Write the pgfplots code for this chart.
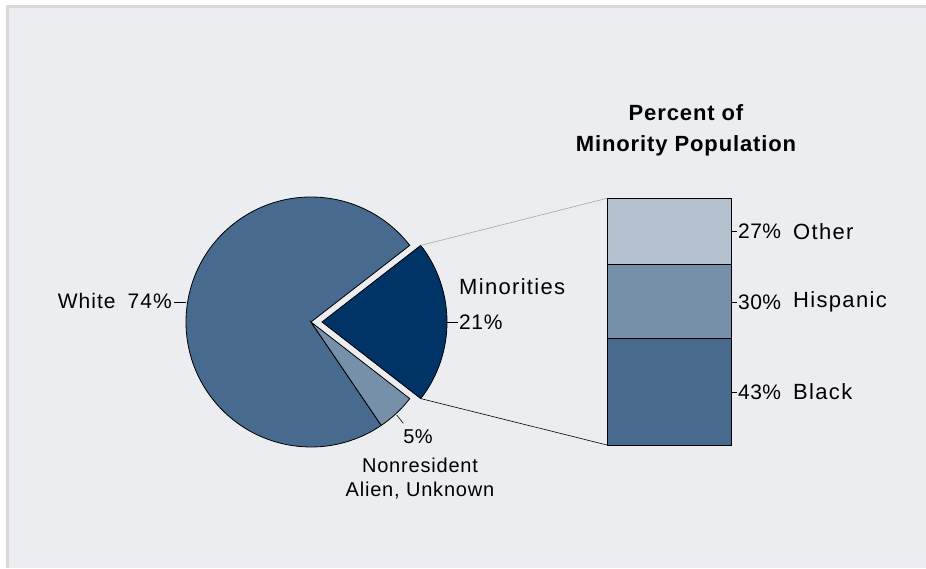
\documentclass[border=0pt]{standalone}
\usepackage{pgfplots}
\pgfplotsset{compat=1.18}
\usepackage{fontspec}
\setmainfont{Liberation Sans}

\definecolor{bgc}{HTML}{ECEDF0}
\definecolor{framec}{HTML}{D9D9D9}
\definecolor{cWhite}{HTML}{476A8E}
\definecolor{cMinor}{HTML}{003366}
\definecolor{cNonres}{HTML}{7690AA}
\definecolor{cOther}{HTML}{B3C0CD}
\definecolor{cHisp}{HTML}{7690AA}
\definecolor{cBlack}{HTML}{476A8E}

% pie shares (percent)
\def\pWhite{74}
\def\pNonres{5}
\def\pMinor{21}
% minority breakdown (percent)
\def\pBlack{43}
\def\pHisp{30}
\def\pOther{27}

\newcommand\fsz[2]{\fontsize{#1}{#1}\selectfont\addfontfeature{LetterSpace=#2}}

\begin{document}
\begin{tikzpicture}
\pgfmathsetmacro\aA{1.8*\pMinor}            % minorities centred on 0 deg
\pgfmathsetmacro\aB{\aA+3.6*\pWhite}
\pgfmathsetmacro\aC{\aB+3.6*\pNonres}
\pgfmathsetmacro\aD{\aC+3.6*\pMinor}
\def\R{125pt}

% canvas axis: 1 unit = 1pt = 1px of the reference
\begin{axis}[
    x=1pt, y=1pt,
    xmin=0, xmax=926, ymin=0, ymax=568,
    hide axis, clip=false,
    at={(0,0)}, anchor=south west,
]
  % background and frame
  \fill[white] (axis cs:0,0) rectangle (axis cs:926,568);
  \fill[framec] (axis cs:6,0) rectangle (axis cs:926,563);
  \fill[bgc] (axis cs:9,0) rectangle (axis cs:926,560);

  % pie
  \filldraw[fill=cWhite, draw=black, line width=0.8pt]
    (axis cs:311,246) -- ++(\aA:\R) arc[start angle=\aA, end angle=\aB, radius=\R] -- cycle;
  \filldraw[fill=cNonres, draw=black, line width=0.8pt]
    (axis cs:311,246) -- ++(\aB:\R) arc[start angle=\aB, end angle=\aC, radius=\R] -- cycle;
  \filldraw[fill=cMinor, draw=black, line width=0.8pt]
    (axis cs:322,246) -- ++(\aC:\R) arc[start angle=\aC, end angle=\aD, radius=\R] -- cycle;

  % connectors to the bar
  \draw[gray!70, line width=0.6pt] (axis cs:322,246) ++(\aA:\R) -- (axis cs:607,369.7);
  \draw[black, line width=0.6pt] (axis cs:322,246) ++(-\aA:\R) -- (axis cs:607,123);

  % pie labels
  \draw[line width=0.6pt] (axis cs:174,266) -- (axis cs:186,266);
  \node[font=\fsz{21}{5}, anchor=east, inner sep=1pt] at (axis cs:173,267)
    {White\hspace{12pt}\pWhite\%};
  \node[font=\fsz{22}{6}, anchor=west, inner sep=1pt] at (axis cs:458,281) {Minorities};
  \draw[line width=0.6pt] (axis cs:446,246) -- (axis cs:458,246);
  \node[font=\fsz{21}{3}, anchor=west, inner sep=1pt] at (axis cs:458,246) {\pMinor\%};
  \draw[line width=0.6pt] (axis cs:396.7,153) -- (axis cs:403.3,144.7);
  \node[font=\fsz{20}{3}] at (axis cs:418,131) {\pNonres\%};
  \node[font=\fsz{20}{4}, align=center] at (axis cs:420,89.5)
    {Nonresident\\[4pt]Alien, Unknown};

  % title of the bar
  \node[font=\fontsize{22}{31}\selectfont\bfseries\addfontfeature{LetterSpace=4}, align=center]
    at (axis cs:686,437.5) {Percent of\\Minority Population};
\end{axis}

% stacked bar of the minority population
\begin{axis}[
    at={(607pt,123pt)}, anchor=south west,
    scale only axis, width=124pt, height=246.7pt,
    xmin=-0.5, xmax=0.5, ymin=0, ymax=100,
    hide axis, clip=false,
    ybar stacked, bar width=124pt,
]
  \addplot[fill=cBlack, draw=black, line width=0.9pt] coordinates {(0,\pBlack)};
  \addplot[fill=cHisp, draw=black, line width=0.9pt] coordinates {(0,\pHisp)};
  \addplot[fill=cOther, draw=black, line width=0.9pt] coordinates {(0,\pOther)};

  \draw[line width=0.6pt] (axis cs:0.5,21.5) -- (axis cs:0.548,21.5);
  \node[font=\fsz{21}{2}, anchor=west, inner sep=1pt] at (axis cs:0.5,21.5) [xshift=6pt] {\pBlack\%};
  \node[font=\fsz{22}{6}, anchor=west, inner sep=1pt] at (axis cs:0.5,21.5) [xshift=61pt] {Black};
  \draw[line width=0.6pt] (axis cs:0.5,58) -- (axis cs:0.548,58);
  \node[font=\fsz{21}{2}, anchor=west, inner sep=1pt] at (axis cs:0.5,58) [xshift=6pt] {\pHisp\%};
  \node[font=\fsz{22}{6}, anchor=west, inner sep=1pt] at (axis cs:0.5,58) [xshift=61pt] {Hispanic};
  \draw[line width=0.6pt] (axis cs:0.5,86.5) -- (axis cs:0.548,86.5);
  \node[font=\fsz{21}{2}, anchor=west, inner sep=1pt] at (axis cs:0.5,86.5) [xshift=6pt] {\pOther\%};
  \node[font=\fsz{22}{6}, anchor=west, inner sep=1pt] at (axis cs:0.5,86.5) [xshift=61pt] {Other};
\end{axis}
\end{tikzpicture}
\end{document}
